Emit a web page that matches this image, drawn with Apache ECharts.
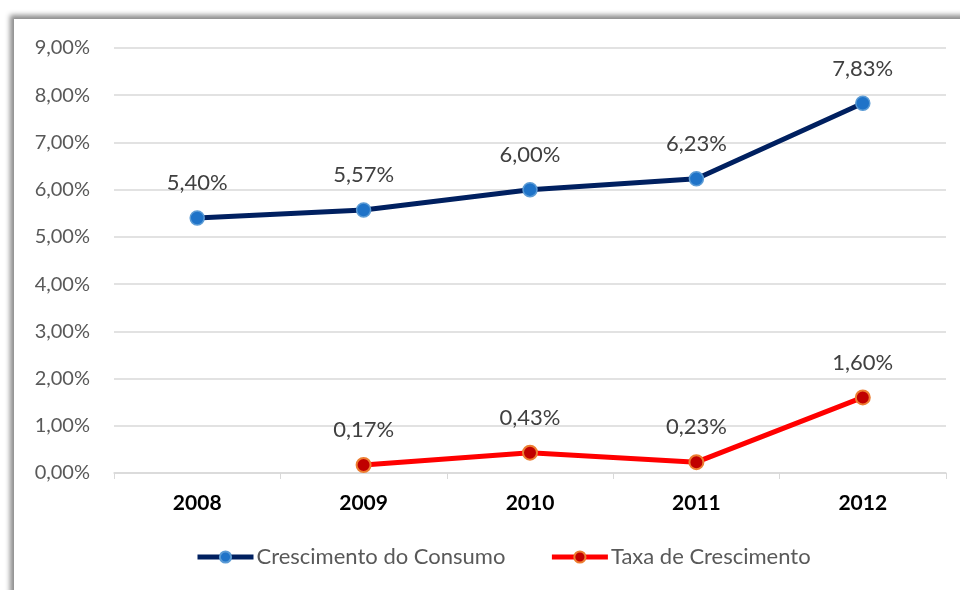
<!DOCTYPE html>
<html>
<head>
<meta charset="UTF-8" />
<script type="text/javascript" src="https://cdn.jsdelivr.net/npm/echarts@6/dist/echarts.min.js"></script>
<style>
	body { margin: 0; background: #fff; overflow: hidden; }
	#frame { position: absolute; left: 14px; top: 19px; width: 1000px; height: 700px; background: #fff;
		box-shadow: -2px -2px 5px 2px rgba(0,0,0,0.45); }
	#chartmain { position: absolute; left: 0; top: 0; width: 960px; height: 590px; }
</style>
</head>
<body>
	<div id="frame"></div>
	<div id="chartmain"></div>

	<script type="text/javascript">
		// dados do gráfico
		var anos = ['2008', '2009', '2010', '2011', '2012'];
		var consumo = [5.40, 5.57, 6.00, 6.23, 7.83];
		var taxa = [null, 0.17, 0.43, 0.23, 1.60];

		function pct(v) {
			return v.toFixed(2).replace('.', ',') + '%';
		}

		var fonte = 'Lato, "Open Sans", sans-serif';

		var option = {
			backgroundColor: 'transparent',
			textStyle: { fontFamily: fonte },
			grid: { left: 114, right: 14, top: 48, bottom: 117 },
			legend: {
				bottom: 17,
				left: 190,
				itemWidth: 56,
				itemHeight: 14,
				itemGap: 44,
				lineStyle: { width: 5 },
				textStyle: { fontSize: 22, color: '#595959', fontFamily: fonte, padding: [0, 0, 0, -2] },
				data: ['Crescimento do Consumo', 'Taxa de Crescimento']
			},
			xAxis: {
				type: 'category',
				data: anos,
				axisLine: { lineStyle: { color: '#d9d9d9', width: 1.5 } },
				axisTick: { show: true, length: 6, lineStyle: { color: '#d9d9d9' } },
				axisLabel: { fontSize: 21, fontWeight: 'bold', color: '#000', margin: 20 }
			},
			yAxis: {
				type: 'value',
				min: 0,
				max: 9,
				interval: 1,
				axisLine: { show: false },
				axisTick: { show: false },
				splitLine: { lineStyle: { color: '#d9d9d9', width: 1.5 } },
				axisLabel: { fontSize: 20, color: '#595959', margin: 24, formatter: pct }
			},
			series: [{
				name: 'Crescimento do Consumo',
				type: 'line',
				data: consumo,
				lineStyle: { color: '#002060', width: 5 },
				symbol: 'circle',
				symbolSize: 14,
				itemStyle: { color: '#1f73c8', borderColor: '#5b9bd5', borderWidth: 1.5 },
				label: {
					show: true, position: 'top', distance: 16, fontSize: 22, color: '#404040',
					formatter: function (p) { return pct(p.value); }
				}
			}, {
				name: 'Taxa de Crescimento',
				type: 'line',
				data: taxa,
				lineStyle: { color: '#ff0000', width: 5 },
				symbol: 'circle',
				symbolSize: 14,
				itemStyle: { color: '#c00000', borderColor: '#ed7d31', borderWidth: 2 },
				label: {
					show: true, position: 'top', distance: 16, fontSize: 22, color: '#404040',
					formatter: function (p) { return pct(p.value); }
				}
			}]
		};

		var myChart = echarts.init(document.getElementById('chartmain'));
		myChart.setOption(option);
	</script>
</body>
</html>
